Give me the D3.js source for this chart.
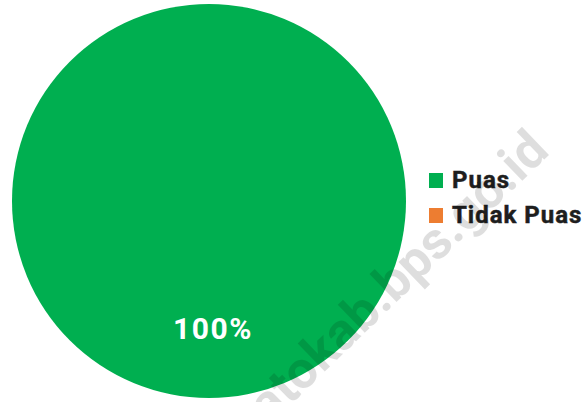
<!DOCTYPE html>
<html>
<head>
<meta charset="utf-8">
<script src="https://cdn.jsdelivr.net/npm/d3@7"></script>
<style>
html,body{margin:0;padding:0;background:#fff;}
svg{display:block;}
text{font-family:Roboto,"Liberation Sans",Arial,sans-serif;}
</style>
</head>
<body>
<svg id="chart" width="585" height="402"></svg>
<script>
const categories = ["Puas", "Tidak Puas"];
const values = [100, 0];
const labels = ["100%", "0%"];
const colors = ["#00AF50", "#ED7D31"];
const watermarkText = "atokab.bps.go.id";

const svg = d3.select("#chart");
const cx = 209, cy = 201, R = 197;

const pie = d3.pie().sort(null).value(d => d.v);
const data = pie(categories.map((c,i)=>({c, v: values[i], label: labels[i]})));
const arc = d3.arc().innerRadius(0).outerRadius(R);
const labelArc = d3.arc().innerRadius(127).outerRadius(127);
const color = d3.scaleOrdinal().domain(categories).range(colors);

const g = svg.append("g").attr("transform", `translate(${cx},${cy})`);
g.selectAll("path").data(data).join("path")
  .attr("d", arc)
  .attr("fill", d => color(d.data.c));

g.selectAll("text.lbl").data(data.filter(d => d.data.v > 0)).join("text")
  .attr("class","lbl")
  .attr("transform", d => { const [x,y] = labelArc.centroid(d); return `translate(${x+4},${y})`; })
  .attr("text-anchor","middle")
  .attr("dy","0.36em")
  .attr("fill","#fff")
  .attr("font-weight","bold")
  .attr("font-size", 30)
  .attr("letter-spacing", 1.6)
  .text(d => d.data.label);

// legend
const leg = svg.append("g").attr("transform","translate(429,173)");
const rowY = d3.scaleBand().domain(categories).range([0,70]);
const item = leg.selectAll("g").data(categories).join("g")
  .attr("transform", d => `translate(0,${rowY(d)})`);
item.append("rect").attr("width",14).attr("height",15).attr("fill", d => color(d));
item.append("text").attr("x",23).attr("y",15)
  .attr("font-weight","bold").attr("font-size",24).attr("fill","#1e1e1e")
  .attr("stroke","#1e1e1e").attr("stroke-width",0.5)
  .attr("letter-spacing", 1.0)
  .text(d => d);

// watermark
svg.append("text")
  .attr("transform","translate(551,153) rotate(-44)")
  .attr("text-anchor","end")
  .attr("font-weight","bold")
  .attr("font-size",52)
  .attr("fill","rgba(0,0,0,0.13)")
  .text(watermarkText);
</script>
</body>
</html>
